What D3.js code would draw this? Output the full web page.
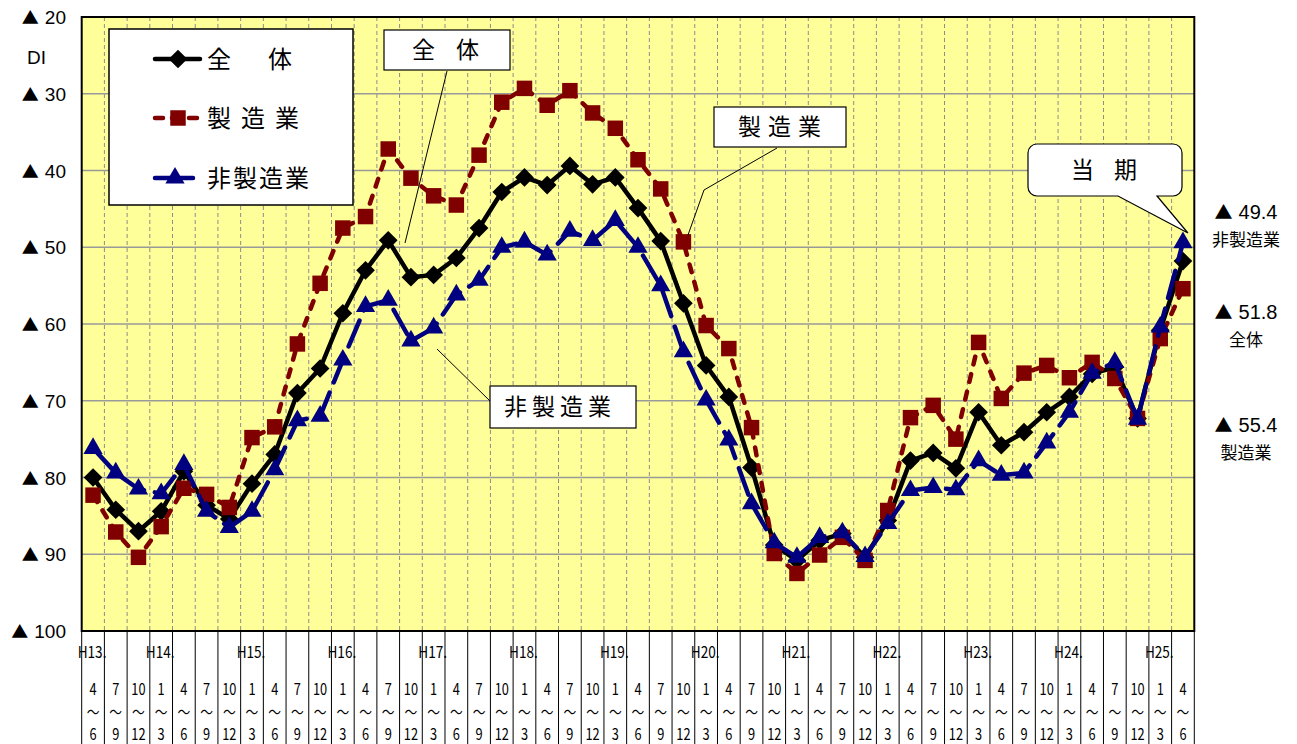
<!DOCTYPE html>
<html>
<head>
<meta charset="utf-8">
<script src="https://cdn.jsdelivr.net/npm/d3@7"></script>
<style>
body { margin: 0; background: #fff; }
svg { display: block; }
text { font-family: "Noto Sans CJK JP", "Noto Sans", sans-serif; fill: #000; }
</style>
</head>
<body>
<script>
// quarter labels (H13.4-6 ... H25.4-6)
const quarterFrom = [4,7,10, 1,4,7,10, 1,4,7,10, 1,4,7,10, 1,4,7,10, 1,4,7,10, 1,4,7,10, 1,4,7,10, 1,4,7,10, 1,4,7,10, 1,4,7,10, 1,4,7,10, 1,4];
const quarterTo   = [6,9,12, 3,6,9,12, 3,6,9,12, 3,6,9,12, 3,6,9,12, 3,6,9,12, 3,6,9,12, 3,6,9,12, 3,6,9,12, 3,6,9,12, 3,6,9,12, 3,6,9,12, 3,6];
const yearLabels = ["H13.","H14.","H15.","H16.","H17.","H18.","H19.","H20.","H21.","H22.","H23.","H24.","H25."];
const yearStart  = [0, 3, 7, 11, 15, 19, 23, 27, 31, 35, 39, 43, 47];

// DI values (▲ = minus)
const total = [80.0,84.2,87.0,84.4,79.2,83.6,85.4,80.8,77.0,69.0,65.8,58.6,53.0,49.1,53.9,53.6,51.4,47.5,42.8,40.9,41.9,39.4,41.8,40.9,44.9,49.2,57.3,65.4,69.5,78.7,88.8,90.8,88.2,87.3,90.4,85.6,77.8,76.8,78.8,71.5,75.8,74.1,71.5,69.5,66.5,65.6,72.3,60.8,51.8];
const manufacturing = [82.3,87.1,90.4,86.4,81.4,82.2,83.9,74.8,73.4,62.6,54.7,47.5,46.0,37.2,41.0,43.3,44.5,38.0,31.1,29.3,31.5,29.6,32.5,34.5,38.6,42.4,49.3,60.2,63.2,73.5,89.9,92.5,90.1,87.8,90.8,84.3,72.2,70.6,75.0,62.4,69.7,66.4,65.4,67.0,65.0,67.1,72.3,61.9,55.4];
const nonManufacturing = [76.2,79.4,81.5,82.1,78.3,84.4,86.5,84.4,79.0,72.6,72.0,64.7,57.7,56.9,62.2,60.5,56.2,54.3,50.0,49.3,51.0,47.9,49.1,46.5,50.0,55.0,63.6,69.9,75.1,83.4,88.5,90.4,87.8,87.2,90.3,86.0,81.7,81.3,81.6,77.8,79.7,79.4,75.5,71.5,66.4,65.0,72.4,60.4,49.4];

const yTicks = [20,30,40,50,60,70,80,90,100];
const seriesNames = ["全体","製造業","非製造業"];
const latest = [51.8, 55.4, 49.4];

const W = 1297, H = 744;
const plotL = 81.7, plotR = 1194.3, plotT = 17, plotB = 631;

const svg = d3.select("body").append("svg")
    .attr("width", W)
    .attr("height", H);

const x = d3.scaleBand().domain(d3.range(total.length)).range([plotL, plotR]);
const y = d3.scaleLinear().domain([20, 100]).range([plotT, plotB]);
const cx = i => x(i) + x.bandwidth() / 2;

// plot background
svg.append("rect")
    .attr("x", plotL).attr("y", plotT)
    .attr("width", plotR - plotL).attr("height", plotB - plotT)
    .attr("fill", "#ffff99");

// vertical dashed grid
svg.append("g").selectAll("line")
    .data(d3.range(1, total.length))
    .join("line")
    .attr("x1", d => x(d)).attr("x2", d => x(d))
    .attr("y1", plotT).attr("y2", plotB)
    .attr("stroke", "#8c8c8c")
    .attr("stroke-width", 1)
    .attr("stroke-dasharray", "4,3");

// horizontal grid
svg.append("g").selectAll("line")
    .data(yTicks.slice(1, -1))
    .join("line")
    .attr("x1", plotL).attr("x2", plotR)
    .attr("y1", d => y(d)).attr("y2", d => y(d))
    .attr("stroke", "#999")
    .attr("stroke-width", 1.5);

// y labels ("▲" marks negative values)
const yl = svg.append("g").selectAll("text")
    .data(yTicks)
    .join("text")
    .attr("x", 66)
    .attr("y", d => y(d) + 7)
    .attr("text-anchor", "end")
    .style("font-size", "19px");
yl.append("tspan").style("font-size", "17px").text("▲");
yl.append("tspan").attr("dx", 6).style("font-family", "'Liberation Sans', sans-serif").text(d => d);

svg.append("text").attr("x", 27).attr("y", 64)
    .style("font-family", "'Liberation Sans', sans-serif")
    .style("font-size", "19px")
    .text("DI");

// bottom label table
const tbl = svg.append("g");
tbl.selectAll("line")
    .data(d3.range(0, total.length + 1))
    .join("line")
    .attr("x1", d => d < total.length ? x(d) : plotR)
    .attr("x2", d => d < total.length ? x(d) : plotR)
    .attr("y1", plotB).attr("y2", H)
    .attr("stroke", "#000")
    .attr("stroke-width", 1);

tbl.selectAll(".yr")
    .data(yearLabels)
    .join("text")
    .attr("class", "yr")
    .attr("transform", (d, i) => `translate(${x(yearStart[i]) - 4},658) scale(0.85,1)`)
    .style("font-size", "16px")
    .text(d => d);

const qLab = (arr, yy) => tbl.append("g").selectAll("text")
    .data(arr)
    .join("text")
    .attr("transform", (d, i) => `translate(${cx(i)},${yy}) scale(0.8,1)`)
    .attr("text-anchor", "middle")
    .style("font-size", "16px")
    .text(d => d);
qLab(quarterFrom, 695);
qLab(quarterFrom.map(() => "～"), 718);
qLab(quarterTo, 740);

// series
const line = d3.line().x((d, i) => cx(i)).y(d => y(d));

const styles = [
    { data: total, color: "#000000", dash: null, shape: "diamond" },
    { data: manufacturing, color: "#800000", dash: "8,10", shape: "square" },
    { data: nonManufacturing, color: "#000080", dash: "28,11", shape: "triangle" }
];

const symbolPath = shape => {
    if (shape === "diamond") return d3.symbol(d3.symbolSquare, 175)();
    if (shape === "square") return d3.symbol(d3.symbolSquare, 240)();
    return d3.symbol(d3.symbolTriangle, 160)();
};
const symbolRot = shape => shape === "diamond" ? " rotate(45)" : "";

styles.forEach(s => {
    svg.append("path")
        .datum(s.data)
        .attr("d", line)
        .attr("fill", "none")
        .attr("stroke", s.color)
        .attr("stroke-width", 4.5)
        .attr("stroke-linecap", s.dash ? "round" : "butt")
        .attr("stroke-linejoin", "round")
        .attr("stroke-dasharray", s.dash);
    svg.append("g").selectAll("path")
        .data(s.data)
        .join("path")
        .attr("d", symbolPath(s.shape))
        .attr("transform", (d, i) => `translate(${cx(i)},${y(d)})${symbolRot(s.shape)}`)
        .attr("fill", s.color);
});

// plot border
svg.append("rect")
    .attr("x", plotL).attr("y", plotT)
    .attr("width", plotR - plotL).attr("height", plotB - plotT)
    .attr("fill", "none")
    .attr("stroke", "#000")
    .attr("stroke-width", 2);

// legend
const lg = svg.append("g");
lg.append("rect").attr("x", 109).attr("y", 29).attr("width", 244).attr("height", 176)
    .attr("fill", "#fff").attr("stroke", "#000").attr("stroke-width", 1.5);
const legendY = [59, 118, 178];
const legendText = [
    { t: "全体", ls: 37 },
    { t: "製造業", ls: 10 },
    { t: "非製造業", ls: 2 }
];
styles.forEach((s, k) => {
    const ly = legendY[k];
    lg.append("line")
        .attr("x1", 155).attr("x2", k === 2 ? 193 : 200)
        .attr("y1", ly).attr("y2", ly)
        .attr("stroke", s.color).attr("stroke-width", 4.5)
        .attr("stroke-linecap", "round")
        .attr("stroke-dasharray", k === 1 ? "8,9" : null);
    lg.append("path")
        .attr("d", symbolPath(s.shape))
        .attr("transform", `translate(${k === 2 ? 175 : 178},${ly})${symbolRot(s.shape)}`)
        .attr("fill", s.color);
    lg.append("text")
        .attr("x", 207).attr("y", ly + 9)
        .style("font-size", "24px")
        .style("letter-spacing", legendText[k].ls + "px")
        .text(legendText[k].t);
});

// callout boxes
const callout = (bx, by, bw, bh, label, tx, ls, lead) => {
    if (lead) {
        svg.append("path").attr("d", d3.line()(lead))
            .attr("fill", "none").attr("stroke", "#000").attr("stroke-width", 1);
    }
    svg.append("rect").attr("x", bx).attr("y", by).attr("width", bw).attr("height", bh)
        .attr("fill", "#fff").attr("stroke", "#000").attr("stroke-width", 1.2);
    svg.append("text").attr("x", tx).attr("y", by + bh / 2 + 8)
        .style("font-size", "23px")
        .style("letter-spacing", ls + "px")
        .text(label);
};
callout(384, 30, 126, 40, "全体", 412, 21, [[447, 71], [405, 243]]);
callout(714, 107, 132, 40, "製造業", 738, 7, [[777, 148], [704, 190], [688, 235]]);
callout(490, 386, 146, 42, "非製造業", 504, 5, [[437, 349], [490, 401]]);

// 当期 speech bubble
{
    const bx = 1028, by = 144, bw = 154, bh = 52, r = 9;
    const p = d3.path();
    p.moveTo(bx + r, by);
    p.lineTo(bx + bw - r, by);
    p.arcTo(bx + bw, by, bx + bw, by + r, r);
    p.lineTo(bx + bw, by + bh - r);
    p.arcTo(bx + bw, by + bh, bx + bw - r, by + bh, r);
    p.lineTo(1157, by + bh);
    p.lineTo(cx(total.length - 1) + 5, 233);
    p.lineTo(1118, by + bh);
    p.lineTo(bx + r, by + bh);
    p.arcTo(bx, by + bh, bx, by + bh - r, r);
    p.lineTo(bx, by + r);
    p.arcTo(bx, by, bx + r, by, r);
    p.closePath();
    svg.append("path").attr("d", p.toString())
        .attr("fill", "#fff").attr("stroke", "#000").attr("stroke-width", 1.2);
    svg.append("text").attr("x", 1071).attr("y", by + bh / 2 + 8)
        .style("font-size", "23px")
        .style("letter-spacing", "20px")
        .text("当期");
}

// latest values on the right
const rightLabels = [
    { v: latest[2], name: seriesNames[2], y: 212 },
    { v: latest[0], name: seriesNames[0], y: 312 },
    { v: latest[1], name: seriesNames[1], y: 425 }
];
rightLabels.forEach(d => {
    const t = svg.append("text").attr("x", 1246).attr("y", d.y + 7)
        .attr("text-anchor", "middle")
        .style("font-size", "20px");
    t.append("tspan").style("font-size", "18px").text("▲");
    t.append("tspan").attr("dx", 6).style("font-family", "'Liberation Sans', sans-serif").text(d.v.toFixed(1));
    svg.append("text").attr("x", 1246).attr("y", d.y + 34)
        .attr("text-anchor", "middle")
        .style("font-size", "17px")
        .text(d.name);
});
</script>
</body>
</html>
